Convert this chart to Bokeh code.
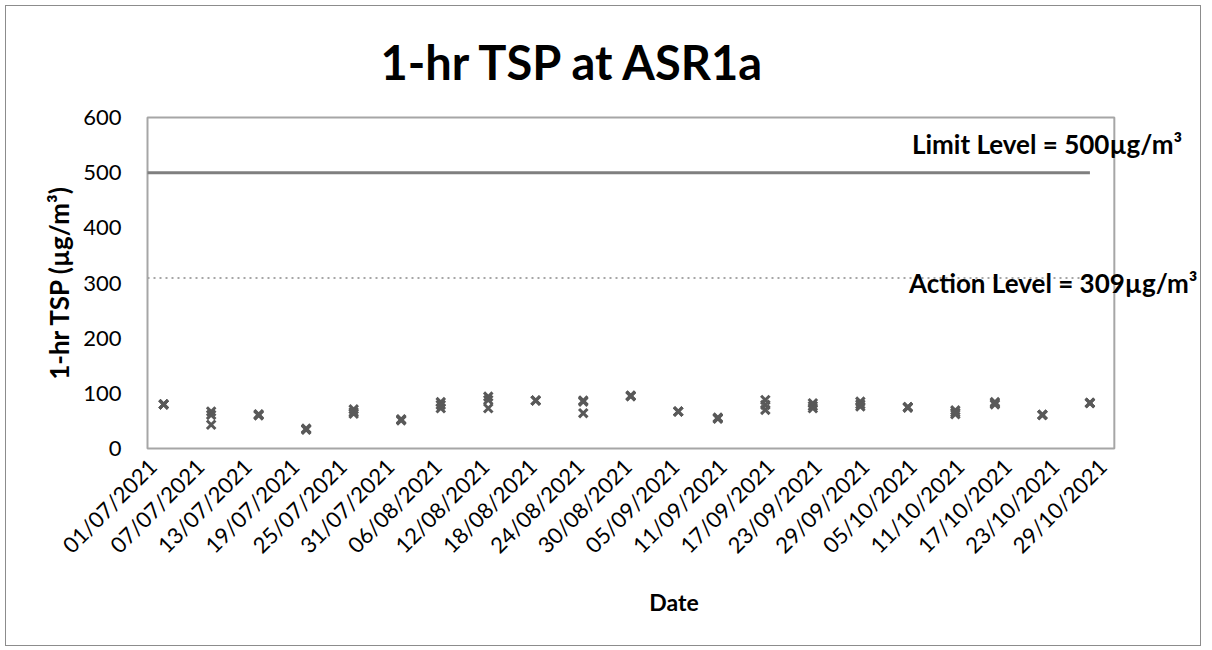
import pandas as pd
from math import pi
from bokeh.plotting import figure
from bokeh.models import Range1d, FixedTicker, DatetimeTickFormatter, Label, Title, ColumnDataSource
from bokeh.embed import file_html
from bokeh.resources import INLINE

# ---------------- data ----------------
sample_dates = ["2021-07-02", "2021-07-08", "2021-07-14", "2021-07-20", "2021-07-26",
                "2021-08-01", "2021-08-06", "2021-08-12", "2021-08-18", "2021-08-24",
                "2021-08-30", "2021-09-05", "2021-09-10", "2021-09-16", "2021-09-22",
                "2021-09-28", "2021-10-04", "2021-10-10", "2021-10-15", "2021-10-21",
                "2021-10-27"]
sample_time = "10:00"
reading_1 = [80, 67, 61, 35, 71, 52, 84, 94, 87, 87, 96, 67, 55, 88, 82, 85, 75, 69, 84, 61, 83]
reading_2 = [80, 61, 60, 36, 66, 51, 79, 88, 87, 85, 95, 67, 54, 79, 77, 80, 74, 65, 80, 61, 82]
reading_3 = [80, 43, 62, 34, 63, 53, 73, 73, 87, 64, 95, 67, 56, 70, 73, 76, 75, 62, 82, 61, 83]

tick_labels = ["01/07/2021", "07/07/2021", "13/07/2021", "19/07/2021", "25/07/2021",
               "31/07/2021", "06/08/2021", "12/08/2021", "18/08/2021", "24/08/2021",
               "30/08/2021", "05/09/2021", "11/09/2021", "17/09/2021", "23/09/2021",
               "29/09/2021", "05/10/2021", "11/10/2021", "17/10/2021", "23/10/2021",
               "29/10/2021"]
axis_start = "2021-06-30 09:00"
axis_end = "2021-10-30 12:00"

limit_level = 500
action_level = 309
y_max = 600
y_ticks = [0, 100, 200, 300, 400, 500, 600]

title_text = "1-hr TSP at ASR1a"
limit_text = "Limit Level = 500µg/m³"
action_text = "Action Level = 309µg/m³"

FONT = "Lato"
GREY_MARK = "#595959"

def ms(s):
    return pd.Timestamp(s).value / 1e6

xs, ys = [], []
for d, a, b, c in zip(sample_dates, reading_1, reading_2, reading_3):
    t = ms(d + " " + sample_time)
    for v in (a, b, c):
        xs.append(t)
        ys.append(v)
src = ColumnDataSource(dict(x=xs, y=ys))

# ---------------- layout (page pixels) ----------------
OX, OY = 5, 5                 # outer box position
W, H = 1196, 641              # outer box size (incl. 1px border)
CL, CT = OX + 1, OY + 1       # canvas left/top
CR, CB = OX + W - 1, OY + H - 1
PL, PR, PT, PB = 147, 1112, 117, 446   # plot area box
FL, FR, FT, FB = 145, CR, 114, 448     # bokeh frame

x0, x1 = ms(axis_start), ms(axis_end)
sx = (x1 - x0) / (PR - PL)
sy = y_max / (PB - PT)

def px_to_x(px):
    return x0 + (px - PL) * sx

def py_to_y(py):
    return (PB - py) * sy

p = figure(width=W, height=H, x_axis_type="datetime",
           x_range=Range1d(px_to_x(FL), px_to_x(FR)),
           y_range=Range1d(py_to_y(FB), py_to_y(FT)),
           output_backend="svg", toolbar_location=None,
           min_border_left=FL - CL, min_border_right=0,
           min_border_top=FT - CT, min_border_bottom=CB - FB,
           styles={"border": "1px solid #8c8c8c", "margin-left": "5px", "margin-top": "5px"})
p.title = None
p.grid.visible = False
p.outline_line_color = None

p.add_layout(Title(text=title_text, align="left", offset=235, standoff=49,
                   text_font=FONT, text_font_style="bold", text_font_size="47px",
                   text_color="#000000"), "above")

# plot-area box
p.quad(left=[x0], right=[x1], bottom=[0], top=[y_max], fill_color=None,
       line_color="#a6a6a6", line_width=2)

# limit / action lines
last_x = ms(sample_dates[-1] + " " + sample_time)
p.line([x0, last_x], [limit_level, limit_level], line_color="#7f7f7f", line_width=3)
p.line([x0, last_x], [action_level, action_level], line_color="#a6a6a6",
       line_width=2, line_dash="2 4")

p.scatter("x", "y", source=src, marker="x", size=12, line_color=GREY_MARK, line_width=3)

# axes
tick_ms = [ms(pd.to_datetime(t, format="%d/%m/%Y").strftime("%Y-%m-%d")) for t in tick_labels]
xa = p.xaxis[0]
xa.ticker = FixedTicker(ticks=tick_ms)
fmt = "%d/%m/%Y"
xa.formatter = DatetimeTickFormatter(days=fmt, months=fmt, years=fmt, hours=fmt,
                                     minutes=fmt, seconds=fmt, milliseconds=fmt,
                                     microseconds=fmt, minsec=fmt, hourmin=fmt)
xa.major_label_orientation = pi / 4
xa.axis_label = "Date"

ya = p.yaxis[0]
ya.ticker = FixedTicker(ticks=y_ticks)
ya.axis_label = "1-hr TSP (µg/m³)"

for ax in (xa, ya):
    ax.axis_line_color = None
    ax.major_tick_line_color = None
    ax.minor_tick_line_color = None
    ax.major_label_text_font = FONT
    ax.major_label_text_color = "#000000"
    ax.axis_label_text_font = FONT
    ax.axis_label_text_font_style = "bold"
    ax.axis_label_text_color = "#000000"

xa.major_label_text_font_size = "22px"
xa.major_label_standoff = 6
xa.axis_label_text_font_size = "23px"
xa.axis_label_standoff = 17
ya.major_label_text_font_size = "22px"
ya.major_label_standoff = 18
ya.axis_label_text_font_size = "26px"
ya.axis_label_standoff = 5

# annotations
p.add_layout(Label(x=px_to_x(910), y=py_to_y(143), text=limit_text,
                   text_font=FONT, text_font_style="bold", text_font_size="26px",
                   text_align="left", text_baseline="middle", text_color="#000000"))
p.add_layout(Label(x=px_to_x(907), y=py_to_y(281), text=action_text,
                   text_font=FONT, text_font_style="bold", text_font_size="26px",
                   text_align="left", text_baseline="middle", text_color="#000000"))

open("out.html", "w").write(file_html(p, INLINE))
